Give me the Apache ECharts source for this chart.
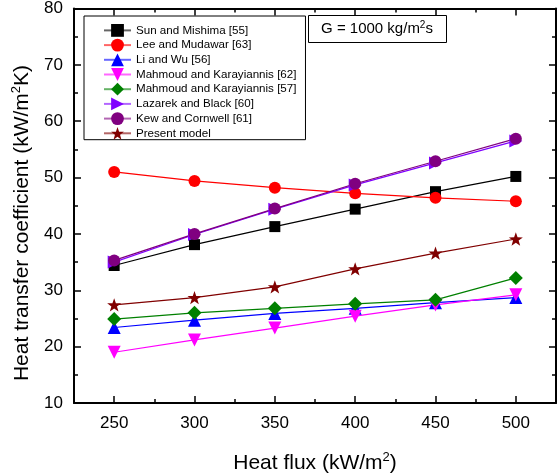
<!DOCTYPE html>
<html><head><meta charset="utf-8">
<script src="https://cdn.jsdelivr.net/npm/echarts@6/dist/echarts.min.js"></script>
<style>html,body{margin:0;padding:0;background:#fff}#c{width:558px;height:474px}</style>
</head><body><div id="c"></div>
<script>
const heatFlux = [250, 300, 350, 400, 450, 500];
const sunMishima = [34.4, 38.1, 41.3, 44.4, 47.5, 50.2];
const leeMudawar = [51.0, 49.4, 48.2, 47.2, 46.4, 45.8];
const liWu = [23.4, 24.7, 25.9, 26.8, 27.8, 28.7];
const mahmoud62 = [19.0, 21.2, 23.3, 25.4, 27.4, 29.2];
const mahmoud57 = [24.9, 26.0, 26.8, 27.6, 28.3, 32.2];
const lazarekBlack = [35.0, 39.9, 44.4, 48.7, 52.6, 56.5];
const kewCornwell = [35.3, 40.0, 44.5, 48.9, 52.9, 56.9];
const presentModel = [27.4, 28.7, 30.6, 33.8, 36.6, 39.1];
const xTickLabels = [250, 300, 350, 400, 450, 500];
const xMinorTicks = [275, 325, 375, 425, 475];
const yTickLabels = [10, 20, 30, 40, 50, 60, 70, 80];

const FONT = '"Liberation Sans", Arial, sans-serif';
const STAR = 'path://M0,-10L2.35,-3.24L9.51,-3.09L3.8,1.24L5.88,8.09L0,4L-5.88,8.09L-3.8,1.24L-9.51,-3.09L-2.35,-3.24Z';

const seriesDefs = [
  {name: 'Sun and Mishima [55]', data: sunMishima, color: '#000000', symbol: 'rect', size: 11, rot: 0},
  {name: 'Lee and Mudawar [63]', data: leeMudawar, color: '#ff0000', symbol: 'circle', size: 12, rot: 0},
  {name: 'Li and Wu [56]', data: liWu, color: '#0000ff', symbol: 'triangle', size: 13, rot: 0},
  {name: 'Mahmoud and Karayiannis [62]', data: mahmoud62, color: '#ff00ff', symbol: 'triangle', size: 13, rot: 180},
  {name: 'Mahmoud and Karayiannis [57]', data: mahmoud57, color: '#008000', symbol: 'diamond', size: 14, rot: 0},
  {name: 'Lazarek and Black [60]', data: lazarekBlack, color: '#8000ff', symbol: 'triangle', size: 13, rot: -90},
  {name: 'Kew and Cornwell [61]', data: kewCornwell, color: '#800080', symbol: 'circle', size: 12, rot: 0},
  {name: 'Present model', data: presentModel, color: '#800000', symbol: STAR, size: 14, rot: 0}
];

const series = seriesDefs.map(d => ({
  type: 'line',
  name: d.name,
  xAxisIndex: 0, yAxisIndex: 0,
  data: heatFlux.map((x, i) => [x, d.data[i]]),
  symbol: d.symbol,
  symbolSize: d.size,
  symbolRotate: d.rot,
  symbolKeepAspect: true,
  showAllSymbol: true,
  itemStyle: {color: d.color, opacity: 1},
  lineStyle: {color: d.color, width: 1.2},
  emphasis: {disabled: true},
  animation: false
}));

const axisLineStyle = {color: '#000', width: 2};
function xAxisDef(pos, ticks, len, labels) {
  return {
    type: 'value', position: pos, min: 225, max: 525,
    axisLine: {show: ticks === xTickLabels, onZero: false, lineStyle: axisLineStyle},
    axisTick: {show: true, inside: true, length: len, customValues: ticks, lineStyle: {color: '#000', width: 1.5}},
    axisLabel: labels ? {show: true, customValues: xTickLabels, fontSize: 17, color: '#000', margin: 12, fontFamily: FONT} : {show: false},
    splitLine: {show: false}
  };
}
function yAxisDef(pos, labels) {
  return {
    type: 'value', position: pos, min: 10, max: 80, interval: 10,
    axisLine: {show: true, onZero: false, lineStyle: axisLineStyle},
    axisTick: {show: true, inside: true, length: 7, lineStyle: {color: '#000', width: 1.5}},
    minorTick: {show: true, splitNumber: 2, length: 4, lineStyle: {color: '#000', width: 1.5}},
    axisLabel: labels ? {show: true, customValues: yTickLabels, fontSize: 17, color: '#000', margin: 11, fontFamily: FONT} : {show: false},
    splitLine: {show: false}
  };
}

const chart = echarts.init(document.getElementById('c'), null, {renderer: 'canvas'});
chart.setOption({
  animation: false,
  backgroundColor: '#fff',
  grid: {left: 74, right: 2, top: 6, bottom: 71, containLabel: false},
  xAxis: [
    xAxisDef('bottom', xTickLabels, 7, true),
    xAxisDef('bottom', xMinorTicks, 4, false),
    xAxisDef('top', xTickLabels, 7, false),
    xAxisDef('top', xMinorTicks, 4, false)
  ],
  yAxis: [yAxisDef('left', true), yAxisDef('right', false)],
  legend: {
    orient: 'vertical', left: 84, top: 16,
    padding: [8, 9, 0, 19],
    itemWidth: 27, itemHeight: 16, itemGap: 1.9,
    backgroundColor: '#fff', borderColor: '#000', borderWidth: 1, borderRadius: 0,
    textStyle: {fontSize: 11.6, fontFamily: FONT, color: '#000'},
    lineStyle: {width: 2, opacity: 0.6},
    data: seriesDefs.map(d => d.name)
  },
  graphic: [
    {type: 'text', x: 22, y: 223, rotation: Math.PI / 2, silent: true,
     style: {text: '{a|Heat transfer coefficient (kW/m}{s|2}{a|K)}', align: 'center', verticalAlign: 'middle',
       rich: {a: {font: '21px ' + FONT, fill: '#000', lineHeight: 24}, s: {font: '13px ' + FONT, fill: '#000', verticalAlign: 'top', lineHeight: 24}}}},
    {type: 'text', x: 315, y: 463, silent: true,
     style: {text: '{a|Heat flux (kW/m}{s|2}{a|)}', align: 'center', verticalAlign: 'middle',
       rich: {a: {font: '21px ' + FONT, fill: '#000', lineHeight: 24}, s: {font: '13px ' + FONT, fill: '#000', verticalAlign: 'top', lineHeight: 24}}}},
    {type: 'rect', silent: true, z: 100, shape: {x: 308.5, y: 15.5, width: 138, height: 27},
     style: {fill: '#fff', stroke: '#000', lineWidth: 1}},
    {type: 'text', x: 377, y: 29, silent: true, z: 101,
     style: {text: '{a|G = 1000 kg/m}{s|2}{a|s}', align: 'center', verticalAlign: 'middle',
       rich: {a: {font: '15px ' + FONT, fill: '#000', lineHeight: 18}, s: {font: '10px ' + FONT, fill: '#000', verticalAlign: 'top', lineHeight: 18}}}}
  ],
  series: series
});
</script>
</body></html>
